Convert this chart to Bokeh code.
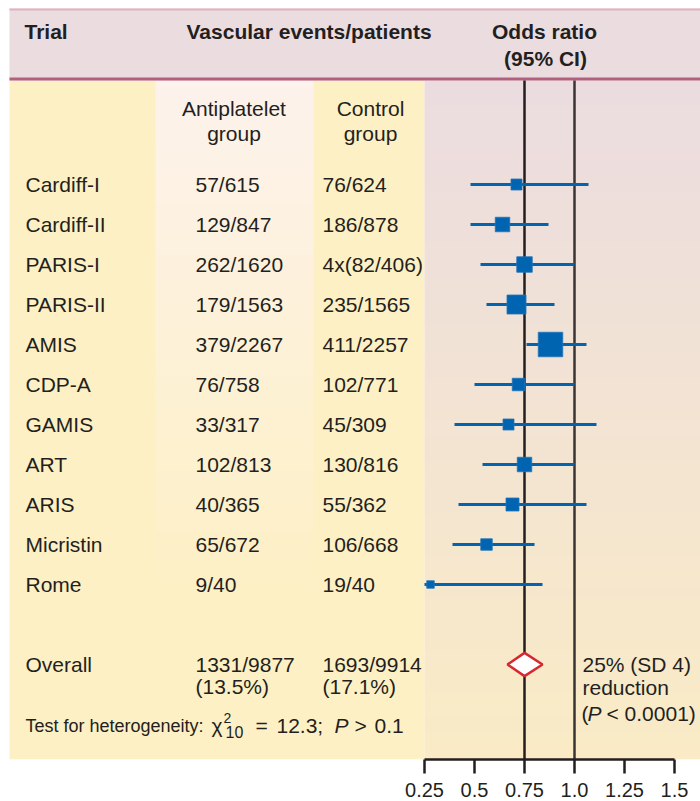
from bokeh.plotting import figure
from bokeh.models import Range1d, FixedTicker
from bokeh.core.properties import value
from bokeh.embed import file_html
from bokeh.resources import INLINE

# ---------------- data ----------------
trials = ["Cardiff-I", "Cardiff-II", "PARIS-I", "PARIS-II", "AMIS", "CDP-A",
          "GAMIS", "ART", "ARIS", "Micristin", "Rome"]
antiplatelet = ["57/615", "129/847", "262/1620", "179/1563", "379/2267", "76/758",
                "33/317", "102/813", "40/365", "65/672", "9/40"]
control = ["76/624", "186/878", "4x(82/406)", "235/1565", "411/2257", "102/771",
           "45/309", "130/816", "55/362", "106/668", "19/40"]
odds_ratio = [0.71, 0.64, 0.75, 0.71, 0.88, 0.72, 0.67, 0.75, 0.69, 0.56, 0.28]
ci_low = [0.48, 0.48, 0.53, 0.56, 0.76, 0.50, 0.40, 0.54, 0.42, 0.39, 0.25]
ci_high = [1.07, 0.87, 1.00, 0.90, 1.06, 1.00, 1.11, 1.00, 1.06, 0.80, 0.84]
square_size = [11, 14.5, 15.5, 19, 24.5, 12.5, 11, 14.5, 13, 11.5, 7.5]

overall_label = "Overall"
overall_antiplatelet = ["1331/9877", "(13.5%)"]
overall_control = ["1693/9914", "(17.1%)"]
overall_or = 0.75
overall_low = 0.665
overall_high = 0.84
summary_lines = ["25% (SD 4)", "reduction"]

reference_lines = [0.75, 1.0]
tick_values = [0.25, 0.5, 0.75, 1.0, 1.25, 1.5]
tick_labels = ["0.25", "0.5", "0.75", "1.0", "1.25", "1.5"]

# ---------------- style ----------------
FONT = "Liberation Sans"
TEXT = "#231F20"
BLUE = "#0064B1"
RED = "#D7282F"
YELLOW = "#FDF0C4"
HEADER = "#EBDCE0"
HEADER_TOP = "#DDB2C2"
HEADER_BOTTOM = "#B2607D"
PANEL_TOP = "#EBDCE0"
PANEL_BOTTOM = "#FAEBC6"
COL_TOP = "#FDF2EC"

W, H = 700, 801
AXIS_PANEL = 42
FRAME_BOTTOM = H - AXIS_PANEL   # px
ROW0_Y, ROW_STEP = 184, 40      # px of first row, px per row


def row_at(y):
    return 1 + (y - ROW0_Y) / ROW_STEP


def or_at(x):
    return 0.25 + (x - 424) / 200


p = figure(width=W, height=H, output_backend="svg", toolbar_location=None,
           x_range=Range1d(or_at(0), or_at(W)),
           y_range=Range1d(row_at(FRAME_BOTTOM), row_at(0)),
           y_axis_location=None,
           min_border_left=0, min_border_right=0, min_border_top=0,
           min_border_bottom=AXIS_PANEL)
p.extra_x_ranges = {"px": Range1d(0, W)}
p.extra_y_ranges = {"px": Range1d(FRAME_BOTTOM, 0)}
p.grid.visible = False
p.outline_line_color = None
p.background_fill_color = "white"
p.border_fill_color = "white"


def hex2rgb(c):
    c = c.lstrip("#")
    return tuple(int(c[i:i + 2], 16) for i in (0, 2, 4))


def lerp(c1, c2, t):
    a, b = hex2rgb(c1), hex2rgb(c2)
    return "#%02x%02x%02x" % tuple(round(a[i] + (b[i] - a[i]) * t) for i in range(3))


def gradient(x0, x1, y0, y1, c0, c1, n=70):
    step = (y1 - y0) / n
    tops = [y0 + i * step for i in range(n)]
    bottoms = [t + step + 1 for t in tops]
    bottoms[-1] = y1
    cols = [lerp(c0, c1, (i + 0.5) / n) for i in range(n)]
    p.quad(left=[x0] * n, right=[x1] * n, top=tops, bottom=bottoms, fill_color=cols,
           line_color=None, x_range_name="px", y_range_name="px")


# backgrounds
p.quad(left=[9], right=[424], top=[80], bottom=[FRAME_BOTTOM], fill_color=YELLOW,
       line_color=None, x_range_name="px", y_range_name="px")
gradient(155, 313, 80, 600, COL_TOP, YELLOW, n=60)
gradient(424, W, 80, FRAME_BOTTOM, PANEL_TOP, PANEL_BOTTOM, n=80)
p.quad(left=[9], right=[W], top=[8], bottom=[80], fill_color=HEADER,
       line_color=None, x_range_name="px", y_range_name="px")
p.quad(left=[9], right=[W], top=[8], bottom=[10], fill_color=HEADER_TOP,
       line_color=None, x_range_name="px", y_range_name="px")
p.quad(left=[9], right=[W], top=[77], bottom=[80], fill_color=HEADER_BOTTOM,
       line_color=None, x_range_name="px", y_range_name="px")

# reference lines
p.segment(x0=reference_lines, x1=reference_lines, y0=[80, 80],
          y1=[FRAME_BOTTOM, FRAME_BOTTOM], y_range_name="px",
          line_color=[TEXT, "#3A3435"], line_width=2.5)

rows = list(range(1, len(trials) + 1))
overall_row = len(trials) + 2

# CIs and squares
p.segment(x0=ci_low, x1=ci_high, y0=rows, y1=rows, line_color=BLUE, line_width=2.8)
p.scatter(x=odds_ratio, y=rows, size=square_size, marker="square",
          fill_color=BLUE, line_color="#2274BA", line_width=0.8)

# overall diamond
h = 0.29
p.patch(x=[overall_low, overall_or, overall_high, overall_or],
        y=[overall_row, overall_row - h, overall_row, overall_row + h],
        fill_color="white", line_color=RED, line_width=2.5)


def txt(x, y, s, size=21, style="normal", align="left", yr="px", yoff=0):
    n = len(s)
    p.text(x=x if isinstance(x, list) else [x] * n,
           y=y if isinstance(y, list) else [y] * n,
           text=s, x_range_name="px", y_range_name=yr,
           text_font=value(FONT), text_font_size=f"{size}px", text_font_style=style,
           text_align=align, text_baseline="alphabetic", text_color=TEXT, y_offset=yoff)


# header
txt(24, 31, ["Trial"], style="bold")
txt(186, 31, ["Vascular events/patients"], style="bold")
txt(544, 31, ["Odds ratio"], style="bold", align="center")
txt(545, 57.5, ["(95% CI)"], style="bold", align="center")
txt(233.5, 108, ["Antiplatelet"], align="center")
txt(233.5, 132.5, ["group"], align="center")
txt(370, 108, ["Control"], align="center")
txt(370, 132.5, ["group"], align="center")

# rows
txt(25, rows, trials, yr="default")
txt(195, rows, antiplatelet, yr="default")
txt(322, rows, control, yr="default")

# overall
txt(25, [overall_row], [overall_label], yr="default")
txt(195, [overall_row], [overall_antiplatelet[0]], yr="default")
txt(195, [overall_row], [overall_antiplatelet[1]], yr="default", yoff=21.5)
txt(322, [overall_row], [overall_control[0]], yr="default")
txt(322, [overall_row], [overall_control[1]], yr="default", yoff=21.5)
txt(582, [overall_row], [summary_lines[0]], yr="default")
txt(582, [overall_row], [summary_lines[1]], yr="default", yoff=23)
txt(581, [overall_row], ["("], yr="default", yoff=48.5)
txt(587, [overall_row], ["P"], style="italic", yr="default", yoff=48.5)
txt(606, [overall_row], ["< 0.0001)"], yr="default", yoff=48.5)

# heterogeneity test
HC = 725
txt(25, HC, ["Test for heterogeneity:"], size=18)
txt(211, HC, ["\u03c7"], size=21)
txt(223, HC - 8, ["2"], size=14)
txt(225, HC + 6, ["10"], size=16)
txt(255, HC, ["="], size=21)
txt(276, HC, ["12.3;"], size=21)
txt(334, HC, ["P"], size=21, style="italic")
txt(354, HC, [">"], size=21)
txt(374, HC, ["0.1"], size=21)

# axis
ax = p.xaxis[0]
ax.ticker = FixedTicker(ticks=tick_values)
ax.major_label_overrides = {v: l for v, l in zip(tick_values, tick_labels)}
ax.bounds = (tick_values[0], tick_values[-1])
ax.axis_line_color = TEXT
ax.axis_line_width = 2.5
ax.major_tick_line_color = TEXT
ax.major_tick_line_width = 2.5
ax.major_tick_out = 14
ax.major_tick_in = 0
ax.minor_tick_out = 0
ax.minor_tick_in = 0
ax.major_label_standoff = 9
ax.major_label_text_font = FONT
ax.major_label_text_font_size = "20px"
ax.major_label_text_color = TEXT

open("out.html", "w").write(file_html(p, INLINE))
